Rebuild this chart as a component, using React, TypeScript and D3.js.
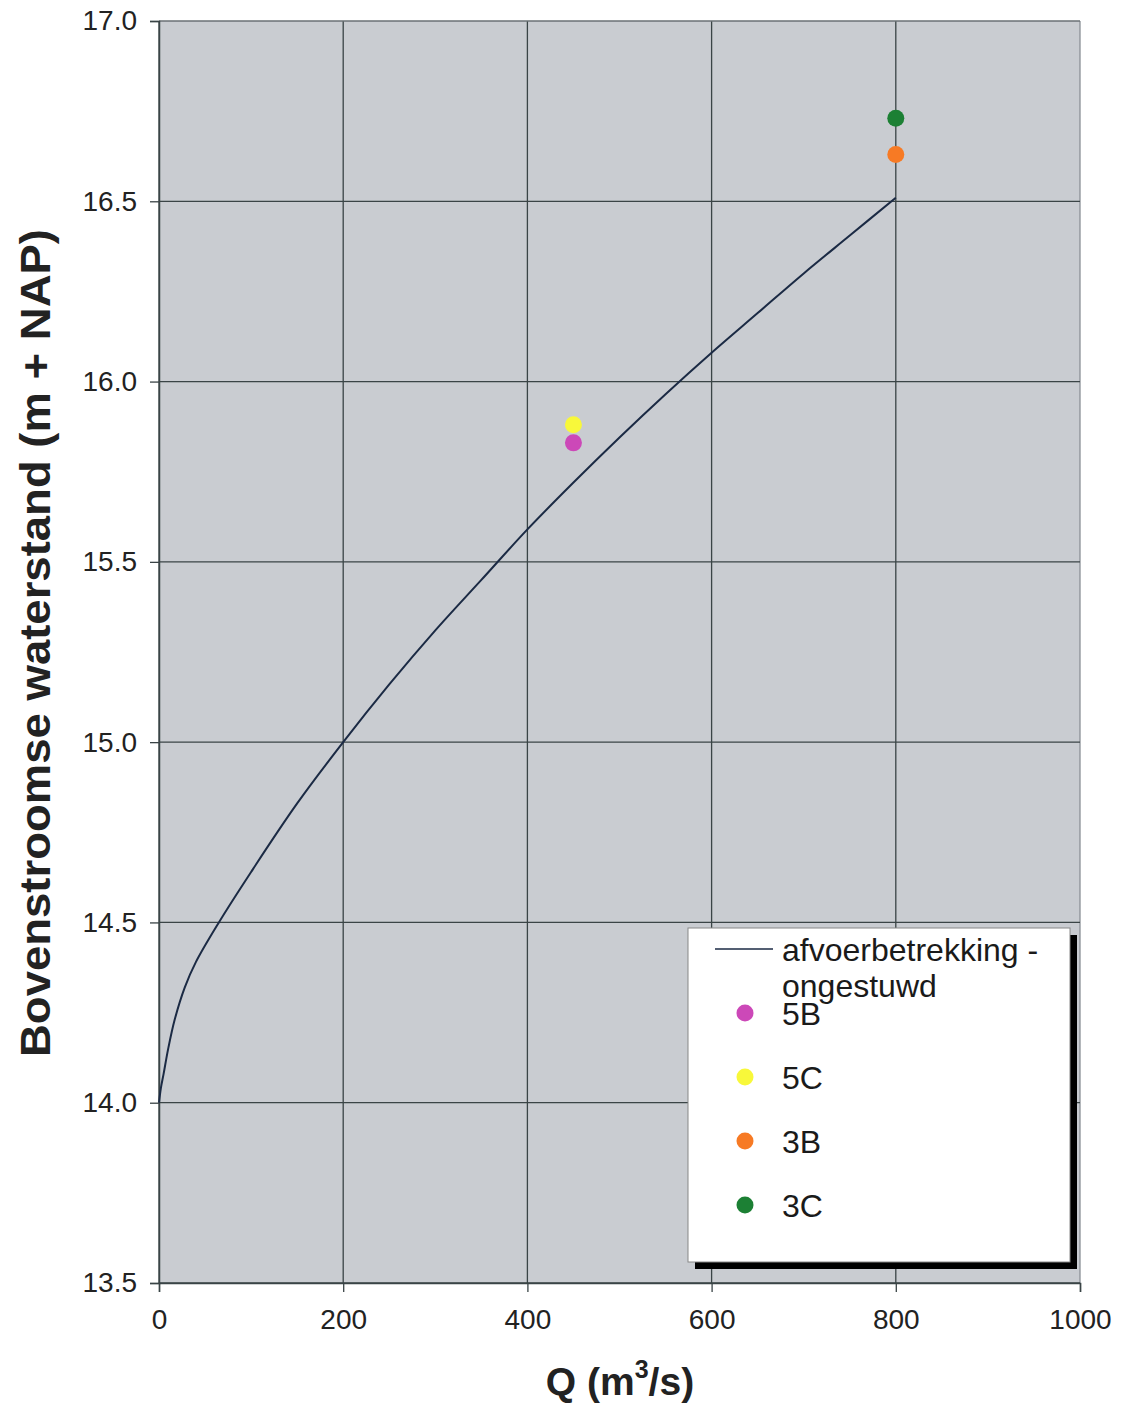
import React, { useRef, useEffect } from 'react';
import * as d3 from 'd3';

// afvoerbetrekking - ongestuwd
const curveQ = [0, 2, 5, 10, 17, 28, 40, 65, 100, 150, 200, 250, 300, 350, 400, 450, 500, 550, 600, 650, 700, 750, 800];
const curveH = [14.0, 14.04, 14.08, 14.15, 14.23, 14.32, 14.39, 14.5, 14.64, 14.83, 15.0, 15.16, 15.31, 15.45, 15.59, 15.72, 15.845, 15.965, 16.08, 16.19, 16.3, 16.405, 16.51];

const pointNames = ['5B', '5C', '3B', '3C'];
const pointQ = [450, 450, 800, 800];
const pointH = [15.83, 15.88, 16.63, 16.73];
const pointColors = ['#cc48b8', '#f8f83a', '#f77a24', '#1c8034'];

const xTicks = [0, 200, 400, 600, 800, 1000];
const yTicks = [13.5, 14.0, 14.5, 15.0, 15.5, 16.0, 16.5, 17.0];

const W = 1127;
const H = 1407;
const margin = { top: 21, right: 47, bottom: 124, left: 159 };
const font = '"Liberation Sans", Arial, sans-serif';

const App = () => {
  const svgRef = useRef<SVGSVGElement>(null);

  useEffect(() => {
    const svg = d3.select(svgRef.current);
    svg.selectAll('*').remove();

    const innerW = W - margin.left - margin.right;
    const innerH = H - margin.top - margin.bottom;

    const x = d3.scaleLinear().domain([0, 1000]).range([margin.left, margin.left + innerW]);
    const y = d3.scaleLinear().domain([13.5, 17]).range([margin.top + innerH, margin.top]);

    svg.append('rect').attr('width', W).attr('height', H).attr('fill', '#ffffff');

    // plot area
    svg.append('rect')
      .attr('x', x(0)).attr('y', y(17))
      .attr('width', innerW).attr('height', innerH)
      .attr('fill', '#c9ccd1');

    // grid
    const grid = svg.append('g').attr('stroke-width', 1.3);
    xTicks.forEach(t => {
      grid.append('line').attr('x1', x(t)).attr('x2', x(t)).attr('y1', y(17)).attr('y2', y(13.5))
        .attr('stroke', t === 1000 ? '#8a9096' : '#3a4446');
    });
    yTicks.forEach(t => {
      grid.append('line').attr('x1', x(0)).attr('x2', x(1000)).attr('y1', y(t)).attr('y2', y(t))
        .attr('stroke', t === 17 ? '#6a7074' : '#3a4446');
    });

    // axes
    const yAxis = svg.append('g')
      .attr('transform', `translate(${x(0)},0)`)
      .call(d3.axisLeft(y).tickValues(yTicks).tickFormat(d3.format('.1f')).tickSize(9).tickPadding(13));
    const xAxis = svg.append('g')
      .attr('transform', `translate(0,${y(13.5)})`)
      .call(d3.axisBottom(x).tickValues(xTicks).tickFormat(d3.format('d')).tickSize(9).tickPadding(17));
    [yAxis, xAxis].forEach(a => {
      a.attr('font-size', 28).attr('font-family', font);
      a.select('.domain').attr('stroke', '#3a4446').attr('stroke-width', 1.5);
      a.selectAll('.tick line').attr('stroke', '#3a4446').attr('stroke-width', 1.3);
      a.selectAll('.tick text').attr('fill', '#222');
    });

    // curve
    const pts = curveQ.map((q, i) => [q, curveH[i]] as [number, number]);
    const line = d3.line<[number, number]>()
      .x(d => x(d[0])).y(d => y(d[1]))
      .curve(d3.curveCatmullRom.alpha(0.5));
    svg.append('path').datum(pts)
      .attr('d', line)
      .attr('fill', 'none').attr('stroke', '#1b2a44').attr('stroke-width', 2);

    // points
    svg.append('g').selectAll('circle')
      .data(pointNames)
      .enter()
      .append('circle')
      .attr('cx', (d, i) => x(pointQ[i]))
      .attr('cy', (d, i) => y(pointH[i]))
      .attr('r', 8.5)
      .attr('fill', (d, i) => pointColors[i]);

    // legend
    const lg = svg.append('g').attr('transform', 'translate(688,928)');
    lg.append('rect').attr('x', 7).attr('y', 7).attr('width', 382).attr('height', 334).attr('fill', '#000');
    lg.append('rect').attr('x', 0).attr('y', 0).attr('width', 382).attr('height', 334)
      .attr('fill', '#ffffff').attr('stroke', '#888').attr('stroke-width', 1);
    lg.append('line').attr('x1', 27).attr('x2', 85).attr('y1', 21).attr('y2', 21)
      .attr('stroke', '#1b2a44').attr('stroke-width', 1.5);
    lg.append('text').attr('x', 94).attr('y', 33).text('afvoerbetrekking -');
    lg.append('text').attr('x', 94).attr('y', 69).text('ongestuwd');
    pointNames.forEach((n, i) => {
      const cy = 85 + i * 64;
      lg.append('circle').attr('cx', 57).attr('cy', cy).attr('r', 8.5).attr('fill', pointColors[i]);
      lg.append('text').attr('x', 94).attr('y', cy + 12).text(n);
    });
    lg.selectAll('text').attr('font-family', font).attr('font-size', 32).attr('fill', '#1a1a1a');

    // axis titles
    const xt = svg.append('text')
      .attr('x', 620).attr('y', 1395)
      .attr('text-anchor', 'middle')
      .attr('font-family', font).attr('font-weight', 'bold').attr('font-size', 39).attr('fill', '#222');
    xt.append('tspan').text('Q (m');
    xt.append('tspan').attr('font-size', 25).attr('dy', -17).text('3');
    xt.append('tspan').attr('dy', 17).text('/s)');

    svg.append('text')
      .attr('transform', 'translate(50,643) rotate(-90)')
      .attr('text-anchor', 'middle')
      .attr('font-family', '"Liberation Sans Narrow", "Liberation Sans", Arial, sans-serif')
      .attr('font-weight', 'bold').attr('font-size', 43).attr('fill', '#222')
      .attr('textLength', 828).attr('lengthAdjust', 'spacingAndGlyphs')
      .text('Bovenstroomse waterstand (m + NAP)');
  }, []);

  return (
    <svg ref={svgRef} width={W} height={H} style={{ position: 'absolute', left: 0, top: 0 }}></svg>
  );
};

export default App;
